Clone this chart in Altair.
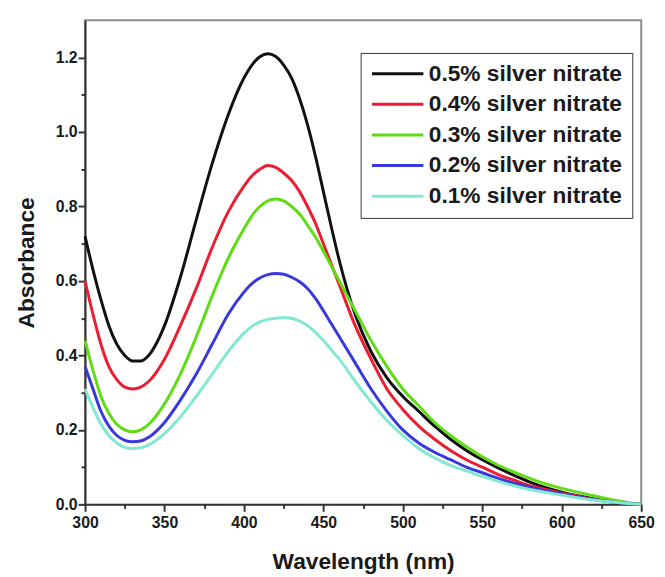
import altair as alt
import pandas as pd

wavelength = [300, 305, 310, 315, 320, 325, 330, 335, 340, 350, 360, 370, 380, 390, 400, 405, 410, 415, 420, 425, 430,
              435, 440, 445, 450, 455, 460, 470, 480, 490, 500, 510, 520, 530, 540, 550, 560, 570, 580, 590, 600, 610,
              620, 630, 640, 650]

abs_05 = [0.72, 0.63, 0.55, 0.48, 0.43, 0.40, 0.385, 0.385, 0.40, 0.48, 0.61, 0.765, 0.915, 1.045, 1.145, 1.18, 1.202, 1.21, 1.203, 1.18, 1.145,
          1.09, 1.02, 0.935, 0.84, 0.745, 0.655, 0.51, 0.41, 0.34, 0.29, 0.25, 0.21, 0.175, 0.145, 0.12, 0.098, 0.078, 0.06, 0.045, 0.033, 0.023,
          0.015, 0.008, 0.003, 0.0]
abs_04 = [0.60, 0.51, 0.43, 0.37, 0.335, 0.315, 0.31, 0.315, 0.33, 0.39, 0.48, 0.58, 0.69, 0.785, 0.855, 0.882, 0.90, 0.91, 0.905, 0.89, 0.87,
          0.84, 0.80, 0.755, 0.70, 0.645, 0.59, 0.48, 0.39, 0.31, 0.255, 0.21, 0.175, 0.145, 0.12, 0.10, 0.08, 0.065, 0.05, 0.04, 0.03, 0.022,
          0.014, 0.008, 0.003, 0.0]
abs_03 = [0.44, 0.36, 0.29, 0.245, 0.215, 0.20, 0.195, 0.20, 0.215, 0.27, 0.35, 0.45, 0.56, 0.66, 0.74, 0.775, 0.80, 0.815, 0.82, 0.815, 0.80,
          0.78, 0.75, 0.718, 0.68, 0.64, 0.60, 0.52, 0.44, 0.37, 0.31, 0.265, 0.22, 0.185, 0.155, 0.128, 0.105, 0.087, 0.07, 0.055, 0.043, 0.033,
          0.023, 0.014, 0.006, 0.0]
abs_02 = [0.37, 0.31, 0.25, 0.21, 0.185, 0.172, 0.168, 0.17, 0.18, 0.22, 0.28, 0.35, 0.43, 0.51, 0.57, 0.593, 0.608, 0.617, 0.62, 0.618, 0.61,
          0.598, 0.58, 0.553, 0.52, 0.485, 0.45, 0.38, 0.31, 0.25, 0.20, 0.165, 0.14, 0.12, 0.10, 0.085, 0.07, 0.057, 0.046, 0.036, 0.028, 0.02,
          0.013, 0.007, 0.003, 0.0]
abs_01 = [0.31, 0.26, 0.215, 0.185, 0.165, 0.153, 0.15, 0.152, 0.16, 0.19, 0.235, 0.29, 0.35, 0.41, 0.46, 0.478, 0.49, 0.497, 0.50, 0.502, 0.50,
          0.492, 0.48, 0.462, 0.44, 0.415, 0.39, 0.33, 0.275, 0.225, 0.185, 0.15, 0.125, 0.105, 0.09, 0.075, 0.062, 0.05, 0.04, 0.032, 0.025, 0.018,
          0.012, 0.007, 0.003, 0.0]

series_names = ["0.5% silver nitrate", "0.4% silver nitrate", "0.3% silver nitrate",
                "0.2% silver nitrate", "0.1% silver nitrate"]
series_values = [abs_05, abs_04, abs_03, abs_02, abs_01]
series_colors = ["#111111", "#ee1c30", "#5fdc14", "#3838dc", "#82e8d2"]

rows = []
for name, vals in zip(series_names, series_values):
    for w, a in zip(wavelength, vals):
        rows.append({"wavelength": w, "absorbance": a, "series": name})
df = pd.DataFrame(rows)

x_ticks = list(range(300, 651, 25))
y_ticks = [round(i * 0.1, 1) for i in range(0, 13)]

FONT = "Liberation Sans"

chart = alt.Chart(df).mark_line(strokeWidth=3, interpolate="monotone").encode(
    x=alt.X("wavelength:Q",
            scale=alt.Scale(domain=[300, 650], nice=False, zero=False),
            axis=alt.Axis(title="Wavelength (nm)", values=x_ticks, grid=False,
                          labelExpr="datum.value % 50 == 0 ? datum.label : ''",
                          tickSize={"condition": {"test": "datum.value % 50 != 0", "value": 4}, "value": 7},
                          labelFlush=False, labelOverlap=False, format="d",
                          titlePadding=21, labelPadding=3)),
    y=alt.Y("absorbance:Q",
            scale=alt.Scale(domain=[0, 1.3], nice=False),
            axis=alt.Axis(title="Absorbance", values=y_ticks, grid=False,
                          labelExpr="round(datum.value*10) % 2 == 0 ? format(datum.value, '.1f') : ''",
                          tickSize={"condition": {"test": "round(datum.value*10) % 2 == 1", "value": 4}, "value": 7},
                          labelOverlap=False, titlePadding=17, labelPadding=1)),
    color=alt.Color("series:N",
                    scale=alt.Scale(domain=series_names, range=series_colors),
                    legend=alt.Legend(title=None, orient="none", legendX=279, legendY=33,
                                      symbolType="stroke", symbolSize=2704, symbolStrokeWidth=3,
                                      clipHeight=22, rowPadding=8, labelOffset=4,
                                      fillColor="white", strokeColor="#333333", padding=10,
                                      labelFontSize=23, labelFont=FONT, labelFontWeight="bold",
                                      labelColor="#1a1a1a", labelLimit=400)),
).properties(
    width=563, height=490,
    background="white",
    autosize=alt.AutoSizeParams(type="none"),
    padding={"left": 78, "top": 9, "right": 16, "bottom": 68},
).configure_view(
    stroke="#8c8c8c", strokeWidth=2
).configure_axis(
    domainColor="#333333", domainWidth=2, tickColor="#333333", tickWidth=2,
    labelFont=FONT, labelFontWeight="bold", labelFontSize=16, labelColor="#1a1a1a",
    titleFont=FONT, titleFontWeight="bold", titleFontSize=23, titleColor="#1a1a1a",
)

chart.save("out.html", embed_options={"renderer": "svg", "actions": False})
